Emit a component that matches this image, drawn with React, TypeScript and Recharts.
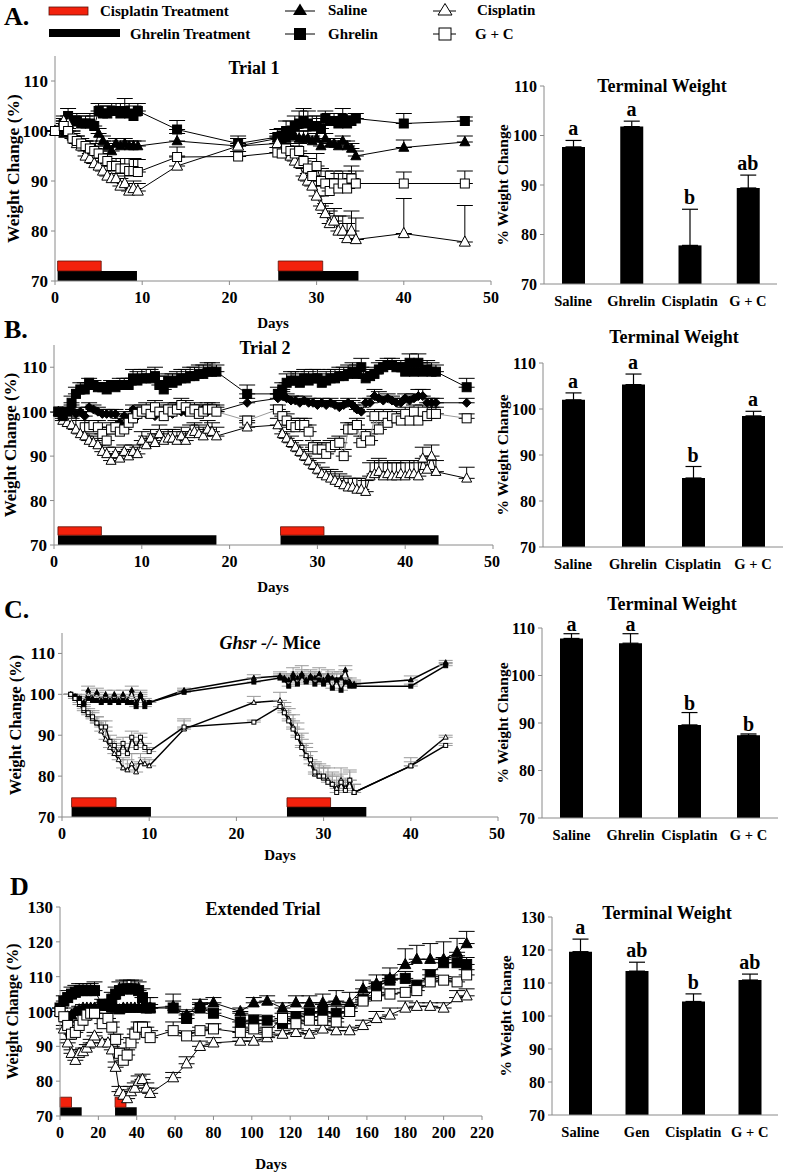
import React from 'react';
import { ComposedChart, Line, Bar, XAxis, YAxis, ErrorBar, ReferenceArea, LabelList } from 'recharts';

const SERIF = '"Liberation Serif", "Times New Roman", serif';
const AXIS = '#8a8a8a';
const RED = '#f3210c';

// ---------- A. Trial 1 ----------
const aDays = [0, 1, 1.5, 2, 2.5, 3, 3.5, 4, 4.5, 5, 5.5, 6, 6.5, 7, 7.5, 8, 8.5, 9, 9.5, 14, 21,
  25.5, 26, 26.5, 27, 27.5, 28, 28.5, 29, 29.5, 30, 30.5, 31, 31.5, 32, 32.5, 33, 33.5, 34, 34.5, 40, 47];
const aSaline = [100, 99.5, 100.5, 99, 98, 97.5, 97, 96.5, 96.5, 99.5, 98, 97, 96, 97.5, 97, 97.5, 97, 97, 97, 98,
  97, 98.5, 98, 98.5, 99, 99, 98.5, 98.5, 98.5, 98, 98.5, 97, 98.5, 97.5, 97.5, 97, 98, 97, 96.5, 95, 96.7, 97.8];
const aSalineErr = [0, 1, 1, 1, 1, 1, 1, 1, 1, 1, 1, 1, 1, 1, 1, 1, 1, 1, 1, 1.5,
  1.5, 1, 1, 1, 1.5, 1.5, 1.5, 1.5, 1.5, 1, 1, 1, 1, 1, 1, 1, 1, 1, 1, 1, 1.5, 1.2];
const aGhrelin = [100, 101.5, 103, 102, 102, 101.5, 101.5, 101.5, 101, 104, 103.5, 103.5, 104, 104, 103.5, 104, 103.5, 103, 104, 100.3,
  97.5, 98.8, 99, 100, 100, 101, 101.5, 102, 101.5, 101, 101, 100.5, 102.5, 102, 102, 101.5, 102.5, 101.5, 102, 102.5, 101.5, 102];
const aGhrelinErr = [0, 1, 1.5, 1, 1.5, 1.5, 1.5, 2, 2, 1.5, 1.5, 1.5, 1.5, 1.5, 2, 2.5, 2, 2, 1.5, 1.8,
  1.5, 1.5, 1.5, 2, 2, 2, 2.5, 2.5, 2.5, 2, 2, 2, 1.5, 1.5, 1.5, 2, 2, 1.5, 1, 1, 2, 0.8];
const aCisplatin = [100, 102, 101.5, 99, 97.5, 97, 95, 94.5, 93.5, 93, 92, 91, 90.5, 90.5, 89, 89.5, 88, 88.5, 88, 93,
  97, 97.5, 96, 95.5, 95, 94, 93.5, 91, 90, 89, 87, 85, 83.5, 81.5, 82, 80, 80, 78.5, 80, 78.3, 79.5, 77.8];
const aCisplatinErr = [0, 1, 1, 1, 1, 1, 1, 1, 1, 1, 1, 1, 1, 1, 1.5, 1.5, 1.5, 1.5, 1.5, 2,
  1.5, 1.5, 1.5, 1.5, 1.5, 1.5, 1.5, 1.5, 1.5, 2, 2, 2, 2, 2.5, 2.5, 3, 3, 3, 4, 4.3, 7, 7.3];
const aGC = [100, 101, 100, 98.5, 98, 97.5, 97, 96.5, 96, 95.5, 94.5, 94, 93, 93, 92.5, 92.5, 92, 92, 91.8, 94.8,
  94.9, 95.7, 95.5, 96.5, 96, 95.5, 96, 94, 92.5, 91, 93, 90, 89.5, 88, 89.5, 88.5, 89.5, 88.5, 90.5, 89.5, 89.5, 89.5];
const aGCErr = [0, 1, 1, 1, 1, 1, 1, 1.5, 1.5, 1.5, 1.5, 1.5, 1.5, 1.5, 2, 2, 2.5, 2.5, 2.5, 2,
  1, 1, 1.5, 1.5, 1.5, 1.5, 1.5, 1.5, 2, 2, 2.5, 2.5, 2.5, 2.5, 2.5, 3, 2.5, 3, 2.5, 2.5, 2.3, 2.5];
const aCisTx = [[0.3, 5.3], [25.6, 30.7]];
const aGhrTx = [[0.3, 9.4], [25.6, 34.8]];

// ---------- B. Trial 2 ----------
const bDays = [0.5, 1, 1.5, 2, 2.5, 3, 3.5, 4, 4.5, 5, 5.5, 6, 6.5, 7, 7.5, 8, 8.5, 9, 9.5, 10, 10.5, 11, 11.5, 12, 12.5,
  13, 13.5, 14, 14.5, 15, 15.5, 16, 16.5, 17, 17.5, 18, 18.5, 22,
  25.5, 26, 26.5, 27, 27.5, 28, 28.5, 29, 29.5, 30, 30.5, 31, 31.5, 32, 32.5, 33, 33.5, 34, 34.5, 35, 35.5, 36, 36.5,
  37, 37.5, 38, 38.5, 39, 39.5, 40, 40.5, 41, 41.5, 42, 42.5, 43, 43.5, 47];
const bGhrelin = [
  100, 99, 100, 102, 104, 105, 105, 106.5, 106, 105.5, 105.5, 105, 106, 105.5, 106, 106, 106, 107.5, 107, 107.5,
  107.5, 107.5, 108, 106, 105, 107, 106.5, 107, 107.5, 107.5, 108, 108, 108.5, 108.5, 109, 109, 109,
  104,
  104, 105, 106.5, 107, 107, 106.5, 107.5, 107, 107.5, 107.5, 106.5, 107, 107.5, 107.5, 108, 108, 108.5, 109, 108.5, 110,
  107.5, 108, 108.5, 109.5, 110, 110.5, 110.5, 110, 110, 109, 111, 109, 111, 109, 109.5, 109, 109,
  105.5];
const bGhrelinErr = [
  0, 1, 1, 1.5, 1.5, 1.5, 1.5, 1, 1, 1, 1, 1, 1, 1.5, 1.5, 1.5, 1.5, 2, 2, 2,
  2, 2, 2, 2, 1.5, 1.5, 2, 2, 2, 2, 2, 2, 2, 2, 2, 2, 1.5,
  2,
  1.5, 1.5, 2, 2, 2, 2, 2, 2, 2, 2, 2, 2, 2, 2, 2, 2, 2, 2, 2, 2,
  1.5, 1.5, 1.5, 1.5, 1.5, 1.5, 1.5, 1.5, 1.5, 1.5, 2, 2, 2, 2, 2, 2, 1.5,
  2];
const bSaline = [
  100, 98.5, 99, 100.5, 99.5, 100, 99, 101, 100.5, 100, 99.5, 99.5, 99.5, 99.5, 97.5, 99, 98.5, 100.5, 99, 100,
  99.5, 100, 99, 100, 99, 100, 99.5, 101, 100, 100, 100.5, 100, 100, 100.5, 100, 100.5, 100,
  102,
  103, 103.5, 103, 102.5, 102.5, 102, 102.5, 102, 102, 101.5, 102, 101.5, 102, 101.5, 101, 101.5, 102, 101.5, 100.5, 100,
  102, 102, 103.5, 103, 102.5, 103, 102.5, 102, 102, 103, 102.5, 103, 103.5, 103.5, 102, 102, 102,
  102];
const bSalineErr = [
  0, 1, 1, 1, 1, 1, 1, 1, 1, 1, 1, 1, 1, 1, 1, 1, 1, 1, 1, 1,
  1, 1, 1, 1, 1, 1, 1, 1, 1, 1, 1, 1, 1, 1, 1, 1, 1,
  1,
  1, 1, 1, 1, 1, 1, 1, 1, 1, 1, 1, 1, 1, 1, 1, 1, 1, 1, 1, 1,
  1, 1, 1.5, 1.5, 1, 1, 1, 1, 1, 1, 1, 1, 1.5, 1.5, 1, 1, 1,
  1];
const bCisplatin = [
  100, 98, 97.5, 97, 96, 95, 94.5, 93.5, 93, 92.5, 91, 90.5, 89, 90.5, 89.5, 91, 90, 91, 90.5, 93.5,
  92.5, 94, 93, 95, 93.5, 94, 94, 93.5, 94.5, 93.5, 95, 95.5, 95, 94.5, 96, 95.5, 94.5,
  96.5,
  97, 95, 94, 93, 92, 91, 90, 89, 88, 87, 86, 85.5, 85, 84.5, 84, 83.5, 83, 83, 82.5, 82.5,
  82, 85.5, 86, 86.5, 85.5, 86, 85.5, 85.5, 86, 85.5, 86, 86, 85.5, 89.5, 87, 90, 86.5,
  85];
const bCisplatinErr = [
  0, 1, 1, 1, 1, 1, 1, 1.5, 1.5, 1.5, 1.5, 1.5, 1.5, 1.5, 1.5, 1.5, 1.5, 1.5, 1.5, 2,
  2, 2, 2, 2, 2, 2, 2, 2, 2, 2, 2, 2, 2, 2, 2, 2, 2,
  1,
  1.5, 1.5, 1.5, 1.5, 1.5, 1.5, 1.5, 1.5, 1.5, 1.5, 1.5, 1.5, 2, 2, 2, 2, 2, 2, 2.5, 2.5,
  2.5, 3, 3, 3, 3, 3, 3, 3, 3, 3, 3, 3, 3, 2.5, 3, 2.5, 2.5,
  2.5];
const bGC = [
  100, 99.5, 98.5, 97.5, 97, 97, 96.5, 96.5, 97, 96.5, 95, 93.5, 96, 96.5, 95.5, 96, 97.5, 98.5, 99.5, 100,
  100.5, 99.5, 101, 100, 99, 100.5, 100, 100.5, 101.5, 101, 100, 100.5, 99.5, 100, 100.5, 100.5, 100,
  98,
  100.5, 99, 98, 97, 96.5, 97, 97, 95.5, 92, 91.5, 91.5, 90.5, 92, 92.5, 93, 90, 96, 96, 97, 93,
  94.5, 93.5, 99, 96, 99, 97.5, 99, 98.5, 98, 99.5, 98, 100, 98, 100, 99, 99.5, 99.5,
  98.5];
const bGCErr = [
  0, 1, 1, 1, 1, 1, 1, 1, 1, 1.5, 1.5, 1.5, 1.5, 1.5, 1.5, 1.5, 1.5, 1.5, 1.5, 1.5,
  1.5, 1.5, 1.5, 1.5, 1.5, 1.5, 1.5, 1.5, 1.5, 1.5, 1.5, 1.5, 1.5, 1.5, 1.5, 1.5, 1.5,
  1,
  1, 1, 1.5, 1.5, 1.5, 1.5, 1.5, 1.5, 1.5, 1.5, 1.5, 1.5, 1.5, 1.5, 1.5, 1.5, 1.5, 1.5, 1.5, 1.5,
  1.5, 1.5, 1.5, 1.5, 1.5, 1.5, 1.5, 1.5, 1.5, 1.5, 1.5, 1.5, 1.5, 1.5, 1.5, 1.5, 1.5,
  1];
const bCisTx = [[0.45, 5.4], [25.8, 30.75]];
const bGhrTx = [[0.45, 18.5], [25.8, 43.8]];

// ---------- C. Ghsr -/- mice ----------
const cDays = [1, 1.5, 2, 2.5, 3, 3.5, 4, 4.5, 5, 5.5, 6, 6.5, 7, 7.5, 8, 8.5, 9, 9.5, 10, 14, 22, 25,
  25.5, 26, 26.5, 27, 27.5, 28, 28.5, 29, 29.5, 30, 30.5, 31, 31.5, 32, 32.5, 33, 33.5, 40, 44];
const cSaline = [100, 99.5, 99, 98, 101, 99, 100.5, 98.5, 100, 98.5, 100, 98.5, 100, 98.5, 101, 98, 100, 98, 98,
  101, 104, 104.5,
  104, 103.5, 105, 104, 105, 103.5, 104.5, 104, 105, 103.5, 104.5, 104, 103.5, 104, 106, 103, 102.5,
  103.5, 107.8];
const cSalineErr = [0, 0.5, 0.5, 1, 1, 1, 1, 1, 1, 1, 1, 1, 1, 1, 1, 1, 1, 1, 0.5,
  0.5, 0.8, 1,
  1, 1, 1.5, 1.5, 2, 1.5, 1.5, 1.5, 1.5, 1.5, 1.5, 1.5, 1.5, 1.5, 1, 1, 1,
  1, 0.5];
const cGhrelin = [100, 99.5, 99, 97.5, 99, 98.5, 98.5, 98, 98.5, 98, 98.5, 98, 98.5, 98, 98, 97, 99.5, 97, 98,
  100.5, 103, 104,
  103.5, 102, 104, 102.5, 104.5, 103, 104, 102.5, 103.5, 102.5, 103.5, 101.5, 103.5, 101, 103, 102, 102,
  102, 107];
const cGhrelinErr = [0, 0.5, 0.5, 1, 1, 1, 1, 1, 1, 1, 1, 1, 1, 1, 1, 1, 1, 1, 0.5,
  0.5, 1, 1,
  1, 1, 1, 1.5, 1.5, 1.5, 1.5, 1.5, 1.5, 1.5, 1.5, 1.5, 1.5, 1.5, 1, 1, 1,
  0.5, 0.5];
const cCisplatin = [100, 99, 97.5, 96, 95, 94, 93, 91, 89, 87, 85.5, 84, 82, 81.5, 83, 81, 83.5, 83, 82.5,
  91.5, 98, 98.5,
  96, 94, 92, 90, 87.5, 85, 83, 80.5, 80, 79.5, 79, 78, 77, 79, 77, 79, 76,
  82.5, 89.5];
const cCisplatinErr = [0, 0.5, 1, 1, 1, 1.5, 1.5, 1.5, 2, 2, 2.5, 2.5, 2.5, 2.5, 2.5, 2, 2, 1.5, 1.5,
  2, 1.5, 2,
  2, 2.5, 3, 3, 3, 3, 3, 3, 3, 3, 3, 3, 3, 3, 2.5, 2.5, 2,
  2, 0.5];
const cGC = [100, 99, 98, 96.5, 95.5, 94.5, 93, 92, 92, 88.5, 87.5, 85.5, 88, 85.5, 89.5, 87, 89.5, 87, 86,
  92, 93.2, 97,
  95.5, 93.5, 91.5, 89.5, 87, 85, 84, 81, 80, 80, 78.5, 78, 76, 78.5, 76.5, 79, 76,
  82.5, 87.5];
const cGCErr = [0, 0.5, 1, 1, 1, 1.5, 1.5, 1.5, 1.5, 1.5, 1.5, 1.5, 1.5, 1.5, 1.5, 1.5, 1, 1, 1,
  2, 0.5, 1.5,
  1.5, 1.5, 2, 2, 2, 2, 2, 2, 2, 2, 2, 2, 2, 2, 2, 2, 2,
  1, 0.5];
const cCisTx = [[1.1, 6.2], [25.8, 30.8]];
const cGhrTx = [[1.1, 10.2], [25.8, 34.9]];

// ---------- D. Extended trial ----------
const dDays = [0, 2, 4, 6, 8, 10, 12, 14, 16, 18, 22, 25, 27, 29, 31, 33, 35, 37, 39, 41, 43, 45, 47,
  59, 66, 73, 80, 94, 101, 108, 116, 123, 130, 137, 144, 151, 158, 165, 172, 180, 186, 193, 200, 207, 212];
const dSaline = [100, 99, 98.5, 99, 100, 100.5, 101, 101, 101, 101, 101.5, 101.5, 101, 101, 100.5, 101, 101, 101, 101, 101, 101, 101, 101,
  101.5, 99, 102, 102.5, 100, 102.5, 103, 101, 102.5, 102.5, 102.5, 103, 102.5, 106.5, 108, 109.5, 113.5, 115, 115, 115, 117, 119.5];
const dSalineErr = [0, 1, 1, 1, 1, 1, 1, 1, 1, 1, 1, 1, 1, 1, 1, 1, 1, 1, 1, 1, 1, 1, 1,
  1.5, 1.5, 1.5, 1.5, 1, 1.5, 1.5, 1.5, 2, 2, 2.5, 3, 3, 2.5, 2.5, 3, 4.5, 4, 4.5, 5, 4, 3.5];
const dGhrelin = [101, 103, 104, 105, 105.5, 106, 106, 106, 106, 106, 102, 102, 103.5, 105, 106, 106.5, 106.5, 106.5, 106.5, 106, 104, 101, 101,
  101, 98, 101, 99.5, 97, 97.5, 97.5, 96.5, 98.5, 99.5, 100, 99.5, 100, 103.5, 107, 109, 109.5, 107.5, 110.5, 114, 114, 113.5];
const dGhrelinErr = [0, 1.5, 2, 2, 2, 2, 2, 2, 2, 2.5, 1.5, 1.5, 2, 2, 2.5, 2.5, 2.5, 2.5, 2.5, 2.5, 2.5, 3, 3,
  4, 2, 1.5, 1, 2.5, 1.5, 1, 1, 1.5, 1.5, 2, 2, 2, 2, 1.5, 1.5, 2, 1.5, 1.5, 1.5, 2, 2];
const dCisplatin = [100, 95, 91, 88, 86, 88, 88.5, 89.5, 91, 93, 91, 91, 89, 84, 77, 76, 75, 77, 78, 80, 80.5, 78, 76.5,
  81, 85, 90, 91, 91.5, 91.5, 92.5, 93.5, 94, 93.5, 95, 94.5, 94.5, 96, 98, 99, 101, 101.5, 101.5, 101, 104, 104.5];
const dCisplatinErr = [0, 1, 1, 1, 1, 1, 1, 1, 1, 1, 1, 1, 1, 1.5, 1.5, 1.5, 1.5, 1.5, 1.5, 1.5, 1.5, 1.5, 1.5,
  1.5, 2, 1.5, 1.5, 1, 1, 1, 1, 1, 1, 1, 1, 1, 1.5, 2, 2, 2, 1, 1, 1.5, 2, 2];
const dGC = [100, 98.5, 96, 93.5, 94, 96, 97.5, 99, 99.5, 99.5, 96.5, 98, 95.5, 92, 88, 86, 87.5, 91, 93.5, 95.5, 95.5, 94, 92.5,
  94.5, 93, 94.5, 95, 94, 95, 94, 98, 96.5, 97.5, 97.5, 97, 100, 103, 104.5, 105, 105.5, 106, 108.5, 109, 108.5, 110.5];
const dGCErr = [0, 1, 1, 1, 1, 1, 1.5, 1.5, 1.5, 1.5, 1.5, 1.5, 1.5, 1.5, 1.5, 1.5, 1.5, 1.5, 1.5, 1.5, 1.5, 1.5, 2,
  2.5, 1, 1, 1.5, 1.5, 1.5, 1.5, 1.5, 1, 1, 1, 1, 1, 1, 1, 1.5, 1, 1, 1, 1, 1, 1.5];
const dCisTx = [[0, 6], [28.7, 34.4]];
const dGhrTx = [[0, 11.3], [28.7, 40]];

// ---------- Terminal weight bars ----------
const barCats = ['Saline', 'Ghrelin', 'Cisplatin', 'G + C'];
const dBarCats = ['Saline', 'Gen', 'Cisplatin', 'G + C'];
const aBar = [97.7, 101.8, 77.8, 89.4];
const aBarErr = [1.3, 1.1, 7.3, 2.6];
const aLetters = ['a', 'a', 'b', 'ab'];
const bBar = [102, 105.3, 85, 98.5];
const bBarErr = [1.5, 2.3, 2.5, 1];
const bLetters = ['a', 'a', 'b', 'a'];
const cBar = [107.8, 106.8, 89.6, 87.4];
const cBarErr = [1, 2, 2.6, 0.3];
const cLetters = ['a', 'a', 'b', 'b'];
const dBar = [119.5, 113.6, 104.4, 110.9];
const dBarErr = [3.8, 2.7, 2.3, 1.8];
const dLetters = ['a', 'ab', 'b', 'ab'];

const pts = (days: number[], vals: number[], errs: number[]) =>
  days.map((d, i) => ({ day: d, v: vals[i], e: [0, errs[i] ?? 0] }));

const bars = (cats: string[], vals: number[], errs: number[], letters: string[]) =>
  cats.map((c, i) => ({ cat: c, v: vals[i], e: [0, errs[i]], top: vals[i] + errs[i], letter: letters[i] }));

// marker shapes drawn at each point
const marker = (kind: string, size: number, color = '#000', sw = 1) => (p: any) => {
  const { cx, cy, index } = p;
  const key = `m${index}`;
  if (typeof cx !== 'number' || typeof cy !== 'number' || isNaN(cy)) return <g key={key} />;
  const h = size / 2;
  if (kind === 'tri' || kind === 'otri') {
    const d = `M${cx},${cy - h * 1.1}L${cx + h},${cy + h * 0.75}L${cx - h},${cy + h * 0.75}Z`;
    return <path key={key} d={d} fill={kind === 'tri' ? color : '#fff'} stroke={color} strokeWidth={sw} />;
  }
  if (kind === 'dia') {
    const d = `M${cx},${cy - h}L${cx + h},${cy}L${cx},${cy + h}L${cx - h},${cy}Z`;
    return <path key={key} d={d} fill={color} stroke={color} strokeWidth={sw} />;
  }
  return <rect key={key} x={cx - h} y={cy - h} width={size} height={size}
    fill={kind === 'sq' ? color : '#fff'} stroke={color} strokeWidth={sw} />;
};

const tickFont = { fill: '#000', fontSize: 17, fontWeight: 700, fontFamily: SERIF };
const labelFont = (size: number) => ({
  fill: '#000', fontSize: size, fontWeight: 700, fontFamily: SERIF, textAnchor: 'middle' as const,
});

function LinePanel({ box, series, xDomain, xTicks, yDomain, yTicks, cisTx, ghrTx, red, black }: any) {
  return (
    <div style={{ position: 'absolute', left: box.left, top: box.top }}>
      <ComposedChart width={box.width} height={box.height}
        margin={{ top: box.mt, right: box.mr, bottom: box.mb, left: 0 }}>
        <XAxis type="number" dataKey="day" domain={xDomain} ticks={xTicks} height={box.xh}
          stroke={AXIS} tickSize={4} tickMargin={7} tick={{ ...tickFont, fontSize: 16 }} />
        <YAxis type="number" domain={yDomain} ticks={yTicks} width={box.yw} stroke={AXIS}
          tickSize={4} tickMargin={3} tick={tickFont}
          label={{ value: 'Weight Change (%)', angle: -90, position: 'insideLeft', offset: box.yl, style: labelFont(box.lf) }} />
        {ghrTx.map((t: number[], i: number) => (
          <ReferenceArea key={`g${i}`} x1={t[0]} x2={t[1]} y1={black[0]} y2={black[1]}
            fill="#000" fillOpacity={1} stroke="none" ifOverflow="visible" />
        ))}
        {cisTx.map((t: number[], i: number) => (
          <ReferenceArea key={`c${i}`} x1={t[0]} x2={t[1]} y1={red[0]} y2={red[1]}
            fill={RED} fillOpacity={1} stroke="#5a1208" strokeWidth={0.8} ifOverflow="visible" />
        ))}
        {series.map((s: any) => (
          <Line key={s.name} name={s.name} data={s.data} dataKey="v" type="linear"
            stroke={s.line} strokeWidth={s.lw} dot={marker(s.kind, s.size, s.color, s.sw)}
            activeDot={false} isAnimationActive={false} connectNulls>
            <ErrorBar dataKey="e" width={s.cap} stroke={s.err} strokeWidth={1} direction="y" />
          </Line>
        ))}
      </ComposedChart>
    </div>
  );
}

function BarPanel({ box, data, yDomain, yTicks }: any) {
  return (
    <div style={{ position: 'absolute', left: box.left, top: box.top }}>
      <ComposedChart width={box.width} height={box.height} data={data}
        margin={{ top: box.mt, right: box.mr, bottom: box.mb, left: 0 }}>
        <XAxis dataKey="cat" type="category" interval={0} height={box.xh} stroke={AXIS}
          tickLine={false} tickSize={6} tickMargin={6}
          tick={{ ...tickFont, fontSize: 14.5 }} />
        <YAxis type="number" domain={yDomain} ticks={yTicks} width={box.yw} stroke={AXIS}
          tickSize={4} tickMargin={3} tick={{ ...tickFont, fontSize: 16 }}
          label={{ value: '% Weight Change', angle: -90, position: 'insideLeft', offset: box.yl, style: labelFont(15.5) }} />
        <Bar dataKey="v" fill="#000" barSize={23} isAnimationActive={false}>
          <ErrorBar dataKey="e" width={8} stroke="#000" strokeWidth={1.2} direction="y" />
        </Bar>
        <Line dataKey="top" stroke="none" dot={false} activeDot={false} isAnimationActive={false}>
          <LabelList dataKey="letter" position="top" offset={box.lo ?? 5}
            style={{ fill: '#000', fontSize: 20, fontWeight: 700, fontFamily: SERIF }} />
        </Line>
      </ComposedChart>
    </div>
  );
}

const ser = (name: string, days: number[], v: number[], e: number[], kind: string, size: number,
  opts: any = {}) => ({
  name, data: pts(days, v, e), kind, size,
  line: opts.line ?? '#000', lw: opts.lw ?? 1, color: opts.color ?? '#000', sw: opts.sw ?? 1,
  err: opts.err ?? '#000', cap: opts.cap ?? 8,
});

const seriesA = [
  ser('Saline', aDays, aSaline, aSalineErr, 'tri', 10),
  ser('Ghrelin', aDays, aGhrelin, aGhrelinErr, 'sq', 9),
  ser('Cisplatin', aDays, aCisplatin, aCisplatinErr, 'otri', 11),
  ser('G + C', aDays, aGC, aGCErr, 'osq', 9),
];
const seriesB = [
  ser('Saline', bDays, bSaline, bSalineErr, 'dia', 9),
  ser('G + C', bDays, bGC, bGCErr, 'osq', 9, { line: '#9a9a9a', lw: 1 }),
  ser('Cisplatin', bDays, bCisplatin, bCisplatinErr, 'otri', 10),
  ser('Ghrelin', bDays, bGhrelin, bGhrelinErr, 'sq', 9),
];
const seriesC = [
  ser('Saline', cDays, cSaline, cSalineErr, 'tri', 5, { lw: 1.5, err: '#9a9a9a', cap: 7 }),
  ser('Ghrelin', cDays, cGhrelin, cGhrelinErr, 'sq', 4, { lw: 1.5, err: '#9a9a9a', cap: 7 }),
  ser('Cisplatin', cDays, cCisplatin, cCisplatinErr, 'otri', 5, { lw: 1.5, err: '#9a9a9a', cap: 7 }),
  ser('G + C', cDays, cGC, cGCErr, 'osq', 4, { lw: 1.5, err: '#9a9a9a', cap: 7 }),
];
const seriesD = [
  ser('Saline', dDays, dSaline, dSalineErr, 'tri', 11),
  ser('Ghrelin', dDays, dGhrelin, dGhrelinErr, 'sq', 10),
  ser('Cisplatin', dDays, dCisplatin, dCisplatinErr, 'otri', 11),
  ser('G + C', dDays, dGC, dGCErr, 'osq', 10),
];

const t = (x: number, y: number, s: string, size = 18, anchor = 'middle') => (
  <text x={x} y={y} textAnchor={anchor} dominantBaseline="central" fontFamily={SERIF}
    fontWeight={700} fontSize={size} fill="#000">{s}</text>
);

export default function App() {
  return (
    <div style={{ position: 'absolute', left: 0, top: 0, width: 786, height: 1173, background: '#fff',
      overflow: 'hidden', fontFamily: SERIF }}>
      <LinePanel box={{ left: 0, top: 40, width: 500, height: 300, mt: 16, mr: 9, mb: 11, xh: 48, yw: 55, yl: 13, lf: 17.5 }}
        series={seriesA} xDomain={[0, 50]} xTicks={[0, 10, 20, 30, 40, 50]}
        yDomain={[70, 115]} yTicks={[70, 80, 90, 100, 110]}
        cisTx={aCisTx} ghrTx={aGhrTx} red={[72, 74]} black={[70, 72]} />
      <BarPanel box={{ left: 490, top: 60, width: 296, height: 260, mt: 26, mr: 9, mb: 6, xh: 30, yw: 54, yl: 12 }}
        data={bars(barCats, aBar, aBarErr, aLetters)} yDomain={[70, 110]} yTicks={[70, 80, 90, 100, 110]} />

      <LinePanel box={{ left: 0, top: 320, width: 500, height: 280, mt: 25, mr: 7, mb: 9, xh: 46, yw: 54, yl: 10, lf: 17 }}
        series={seriesB} xDomain={[0, 50]} xTicks={[0, 10, 20, 30, 40, 50]}
        yDomain={[70, 115]} yTicks={[70, 80, 90, 100, 110]}
        cisTx={bCisTx} ghrTx={bGhrTx} red={[72.2, 74.1]} black={[70, 72.2]} />
      <BarPanel box={{ left: 490, top: 330, width: 296, height: 260, mt: 33, mr: 3, mb: 13, xh: 30, yw: 53, yl: 12 }}
        data={bars(barCats, bBar, bBarErr, bLetters)} yDomain={[70, 110]} yTicks={[70, 80, 90, 100, 110]} />

      <LinePanel box={{ left: 0, top: 600, width: 505, height: 270, mt: 33, mr: 7, mb: 8, xh: 45, yw: 62, yl: 15, lf: 16.5 }}
        series={seriesC} xDomain={[0, 50]} xTicks={[0, 10, 20, 30, 40, 50]}
        yDomain={[70, 115]} yTicks={[70, 80, 90, 100, 110]}
        cisTx={cCisTx} ghrTx={cGhrTx} red={[72.45, 74.7]} black={[70, 72.45]} />
      <BarPanel box={{ left: 490, top: 600, width: 296, height: 260, mt: 28, mr: 8, mb: 12, xh: 30, yw: 52, yl: 12, lo: 3 }}
        data={bars(barCats, cBar, cBarErr, cLetters)} yDomain={[70, 110]} yTicks={[70, 80, 90, 100, 110]} />

      <LinePanel box={{ left: 0, top: 880, width: 500, height: 293, mt: 27, mr: 18, mb: 2, xh: 55, yw: 60, yl: 12, lf: 16 }}
        series={seriesD} xDomain={[0, 220]} xTicks={[0, 20, 40, 60, 80, 100, 120, 140, 160, 180, 200, 220]}
        yDomain={[70, 130]} yTicks={[70, 80, 90, 100, 110, 120, 130]}
        cisTx={dCisTx} ghrTx={dGhrTx} red={[72.5, 75.4]} black={[70, 72.5]} />
      <BarPanel box={{ left: 490, top: 880, width: 296, height: 270, mt: 37, mr: 8, mb: 5, xh: 30, yw: 62, yl: 15 }}
        data={bars(dBarCats, dBar, dBarErr, dLetters)} yDomain={[70, 130]} yTicks={[70, 80, 90, 100, 110, 120, 130]} />

      <svg width={786} height={1173} style={{ position: 'absolute', left: 0, top: 0, pointerEvents: 'none' }}>
        {/* legend */}
        <rect x={49} y={7} width={39} height={8} fill={RED} stroke="#5a1208" strokeWidth={0.8} />
        {t(100, 11, 'Cisplatin Treatment', 15, 'start')}
        <rect x={49} y={29} width={71} height={8} fill="#000" />
        {t(130, 34, 'Ghrelin Treatment', 15, 'start')}
        <line x1={285} x2={315} y1={11} y2={11} stroke="#000" />
        <path d="M300,3.5L307,15L293,15Z" fill="#000" />
        {t(328, 10, 'Saline', 15, 'start')}
        <line x1={285} x2={315} y1={34} y2={34} stroke="#000" />
        <rect x={294} y={28} width={12} height={12} fill="#000" />
        {t(328, 34, 'Ghrelin', 15, 'start')}
        <line x1={433} x2={456} y1={11} y2={11} stroke="#000" />
        <path d="M445,3.5L452,15L438,15Z" fill="#fff" stroke="#000" />
        {t(477, 10, 'Cisplatin', 15, 'start')}
        <line x1={433} x2={456} y1={34} y2={34} stroke="#000" />
        <rect x={439} y={28} width={12} height={12} fill="#fff" stroke="#000" />
        {t(475, 34, 'G + C', 15, 'start')}

        {/* panel letters */}
        <text x={4} y={25} fontFamily={SERIF} fontWeight={700} fontSize={26}>A.</text>
        <text x={4} y={338} fontFamily={SERIF} fontWeight={700} fontSize={26}>B.</text>
        <text x={4} y={618} fontFamily={SERIF} fontWeight={700} fontSize={26}>C.</text>
        <text x={10} y={895} fontFamily={SERIF} fontWeight={700} fontSize={26}>D</text>

        {/* titles */}
        {t(254, 68, 'Trial 1', 18)}
        {t(662, 86, 'Terminal Weight', 18)}
        {t(265, 348, 'Trial 2', 18)}
        {t(674, 337, 'Terminal Weight', 18)}
        <text x={270} y={643} textAnchor="middle" dominantBaseline="central" fontFamily={SERIF}
          fontWeight={700} fontSize={18}>
          <tspan fontStyle="italic">Ghsr -/-</tspan> Mice
        </text>
        {t(672, 604, 'Terminal Weight', 18)}
        {t(263, 909, 'Extended Trial', 18)}
        {t(667, 913, 'Terminal Weight', 18)}

        {/* x-axis titles */}
        {t(273, 323, 'Days', 15)}
        {t(273, 587, 'Days', 15)}
        {t(280, 855, 'Days', 15)}
        {t(271, 1164, 'Days', 15)}
      </svg>
    </div>
  );
}
